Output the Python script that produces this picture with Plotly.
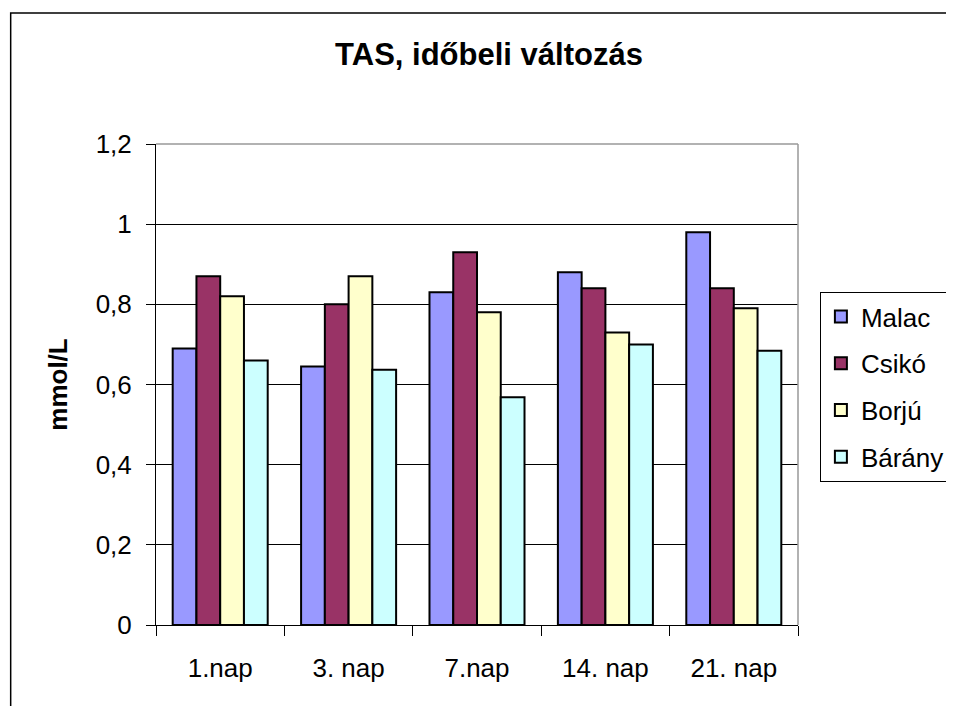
import plotly.graph_objects as go

categories = ["1.nap", "3. nap", "7.nap", "14. nap", "21. nap"]
series_names = ["Malac", "Csikó", "Borjú", "Bárány"]
malac = [0.69, 0.645, 0.83, 0.88, 0.98]
csiko = [0.87, 0.80, 0.93, 0.84, 0.84]
borju = [0.82, 0.87, 0.78, 0.73, 0.79]
barany = [0.66, 0.637, 0.568, 0.70, 0.684]
colors = ["#9999FF", "#993366", "#FFFFCC", "#CCFFFF"]
y_ticks = [0, 0.2, 0.4, 0.6, 0.8, 1.0, 1.2]

FONT = "Liberation Sans, Arial, sans-serif"

fig = go.Figure()
for name, vals, col in zip(series_names, [malac, csiko, borju, barany], colors):
    fig.add_trace(go.Bar(
        x=categories, y=vals, name=name, legendgroup=name,
        marker=dict(color=col, line=dict(color="#000000", width=2)),
    ))

OFF = 8  # page body margin
W, H = 954, 706
L, T = 156 - OFF, 144 - OFF
pw, ph = 645, 481
R, B = W - L - pw, H - T - ph

def px_x(p):
    return (p - OFF - L) / pw

def px_y(p):
    return (T + ph - (p - OFF)) / ph

fig.update_layout(
    width=W, height=H,
    margin=dict(l=L, r=R, t=T, b=B),
    paper_bgcolor="white", plot_bgcolor="white",
    separators=", ",
    font=dict(family=FONT, size=26, color="#000000"),
    barmode="group", bargap=0.26, bargroupgap=0,
    title=dict(text="<b>TAS, időbeli változás</b>", x=(489 - OFF) / W, xanchor="center",
               y=1 - (54 - OFF) / H, yanchor="middle", font=dict(size=31, family=FONT)),
    legend=dict(x=px_x(823), y=px_y(292), xanchor="left", yanchor="top",
                bordercolor="#000000", borderwidth=1, bgcolor="white",
                font=dict(size=26, family=FONT), tracegroupgap=10,
                traceorder="grouped"),
    xaxis=dict(showline=True, linecolor="#000000", linewidth=1,
               ticks="outside", tickson="boundaries", ticklen=10,
               tickcolor="#000000", showgrid=False, ticklabelstandoff=20,
               tickfont=dict(size=26, family=FONT)),
    yaxis=dict(range=[0, 1.2], tickvals=y_ticks, showline=True,
               linecolor="#000000", linewidth=1, ticks="outside", ticklen=9,
               tickcolor="#000000", showgrid=True, gridcolor="#000000",
               gridwidth=1, zeroline=False, ticklabelstandoff=9,
               tickfont=dict(size=26, family=FONT),
               title=dict(text="<b>mmol/L</b>", standoff=20,
                          font=dict(size=26, family=FONT))),
    shapes=[
        dict(type="line", xref="paper", yref="paper", x0=0, x1=1, y0=1, y1=1,
             line=dict(color="#999999", width=1.5), layer="above"),
        dict(type="line", xref="paper", yref="paper", x0=1, x1=1, y0=0, y1=1,
             line=dict(color="#999999", width=1.5), layer="above"),
        dict(type="rect", xref="paper", yref="paper",
             x0=px_x(10), x1=px_x(970), y0=px_y(13), y1=px_y(720),
             line=dict(color="#000000", width=1.5), layer="below"),
    ],
)

fig.write_html("out.html")
